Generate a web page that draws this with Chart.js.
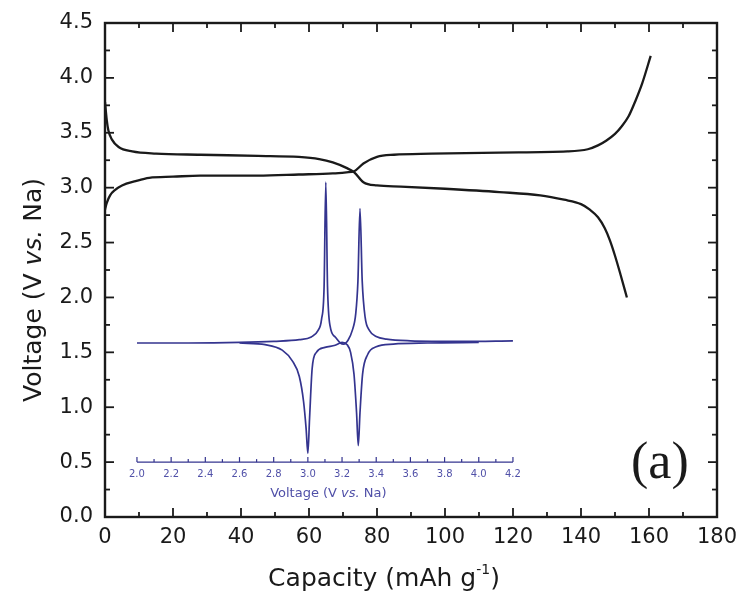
<!DOCTYPE html>
<html><head><meta charset="utf-8">
<script src="https://cdn.jsdelivr.net/npm/chart.js@4.4.1/dist/chart.umd.min.js"></script>
<style>html,body{margin:0;padding:0;background:#fff;}#wrap{width:741px;height:592px;}</style>
</head><body><div id="wrap"><canvas id="c" width="741" height="592"></canvas></div>
<script>
// ---- data ----
const dischargeCapacity = [0, 0.5, 1, 2, 4, 8, 15, 28, 45, 57, 63, 67, 71, 73.3, 76, 80, 87, 100, 116, 128, 135, 140, 142.6, 145, 147, 148.5, 150, 151.7, 153.5];
const dischargeVoltage  = [3.78, 3.62, 3.52, 3.44, 3.37, 3.33, 3.31, 3.30, 3.29, 3.28, 3.26, 3.23, 3.18, 3.14, 3.05, 3.02, 3.01, 2.99, 2.96, 2.93, 2.89, 2.85, 2.80, 2.73, 2.63, 2.52, 2.38, 2.20, 2.00];
const chargeCapacity = [0, 0.5, 1.5, 3, 5, 9, 13, 20, 28, 45, 57, 67, 71, 73.3, 76, 80, 85, 96, 116, 136, 142, 145, 147.5, 150, 152, 154, 156, 158, 160.5];
const chargeVoltage  = [2.80, 2.86, 2.93, 2.98, 3.02, 3.06, 3.09, 3.10, 3.11, 3.11, 3.12, 3.13, 3.14, 3.15, 3.22, 3.28, 3.30, 3.31, 3.32, 3.33, 3.35, 3.385, 3.43, 3.49, 3.56, 3.65, 3.79, 3.95, 4.20];
// inset CV (signal expressed on the main vertical scale)
const cvOxVoltage = [2.00, 2.30, 2.60, 2.80, 2.95, 3.02, 3.06, 3.08, 3.095, 3.105, 3.115, 3.13, 3.16, 3.19, 3.21, 3.235, 3.26, 3.28, 3.293, 3.305, 3.318, 3.335, 3.36, 3.40, 3.46, 3.60, 3.90, 4.20];
const cvOxSignal  = [1.585, 1.585, 1.59, 1.60, 1.615, 1.64, 1.70, 1.80, 2.10, 3.05, 2.10, 1.74, 1.64, 1.585, 1.575, 1.61, 1.70, 1.85, 2.15, 2.81, 2.15, 1.82, 1.70, 1.645, 1.62, 1.605, 1.60, 1.605];
const cvRedVoltage = [2.60, 2.75, 2.85, 2.91, 2.95, 2.975, 2.99, 3.00, 3.01, 3.025, 3.05, 3.10, 3.16, 3.20, 3.23, 3.25, 3.27, 3.285, 3.295, 3.305, 3.32, 3.35, 3.40, 3.50, 3.70, 4.00];
const cvRedSignal  = [1.585, 1.57, 1.52, 1.42, 1.28, 1.05, 0.80, 0.58, 0.90, 1.35, 1.50, 1.545, 1.565, 1.59, 1.57, 1.50, 1.30, 0.95, 0.65, 0.95, 1.30, 1.48, 1.55, 1.575, 1.585, 1.59];
// ticks
const xTickValues = [0, 20, 40, 60, 80, 100, 120, 140, 160, 180];
const xMinorValues = [10, 30, 50, 70, 90, 110, 130, 150, 170];
const yTickValues = [0, 0.5, 1, 1.5, 2, 2.5, 3, 3.5, 4, 4.5];
const yMinorValues = [0.25, 0.75, 1.25, 1.75, 2.25, 2.75, 3.25, 3.75, 4.25];
const insetTickValues = [2.0, 2.2, 2.4, 2.6, 2.8, 3.0, 3.2, 3.4, 3.6, 3.8, 4.0, 4.2];
const insetMinorValues = [2.1, 2.3, 2.5, 2.7, 2.9, 3.1, 3.3, 3.5, 3.7, 3.9, 4.1];
const insetAxisLevel = 0.5;

const pts = (xs, ys) => xs.map((v, i) => ({x: v, y: ys[i]}));
const INK = '#1a1a1a', BLUE = '#34348f', BLUE_TXT = '#5050a8';
const FONT = 'DejaVu Sans';
Chart.defaults.font.family = FONT;

function rich(ctx, parts, cx, cy, rot) {
  ctx.save();
  ctx.translate(cx, cy);
  if (rot) ctx.rotate(-Math.PI / 2);
  let total = 0;
  parts.forEach(p => { ctx.font = p.font; p.w = ctx.measureText(p.t).width; total += p.w; });
  let xx = -total / 2;
  ctx.textBaseline = 'alphabetic'; ctx.textAlign = 'left';
  parts.forEach(p => { ctx.font = p.font; ctx.fillText(p.t, xx, p.dy || 0); xx += p.w; });
  ctx.restore();
}

const decor = {
  id: 'decor',
  afterDatasetsDraw(chart) {
    const {ctx, chartArea: a, scales} = chart;
    const x = scales.x, y = scales.y, x2 = scales.x2;
    const seg = (x0, y0, x1, y1) => { ctx.beginPath(); ctx.moveTo(x0, y0); ctx.lineTo(x1, y1); ctx.stroke(); };
    ctx.save();
    ctx.strokeStyle = INK; ctx.lineWidth = 1.8;
    xTickValues.concat(xMinorValues).forEach(v => {
      const px = x.getPixelForValue(v), L = xTickValues.includes(v) ? 9 : 5;
      seg(px, a.bottom, px, a.bottom - L); seg(px, a.top, px, a.top + L);
    });
    yTickValues.concat(yMinorValues).forEach(v => {
      const py = y.getPixelForValue(v), L = yTickValues.includes(v) ? 9 : 5;
      seg(a.left, py, a.left + L, py); seg(a.right, py, a.right - L, py);
    });
    ctx.lineWidth = 2.4;
    ctx.strokeRect(a.left, a.top, a.right - a.left, a.bottom - a.top);

    // inset axis
    const iy = y.getPixelForValue(insetAxisLevel);
    ctx.strokeStyle = BLUE; ctx.lineWidth = 1.2;
    seg(x2.getPixelForValue(insetTickValues[0]), iy, x2.getPixelForValue(insetTickValues[insetTickValues.length - 1]), iy);
    insetTickValues.concat(insetMinorValues).forEach(v => {
      const px = x2.getPixelForValue(v), L = insetTickValues.includes(v) ? 5 : 3;
      seg(px, iy, px, iy - L);
    });
    ctx.fillStyle = BLUE_TXT; ctx.font = '10px ' + FONT; ctx.textAlign = 'center'; ctx.textBaseline = 'middle';
    insetTickValues.forEach(v => ctx.fillText(v.toFixed(1), x2.getPixelForValue(v), iy + 12));
    rich(ctx, [
      {t: 'Voltage (V ', font: '13px ' + FONT},
      {t: 'vs.', font: 'italic 13px ' + FONT},
      {t: ' Na)', font: '13px ' + FONT}
    ], x2.getPixelForValue(3.12), iy + 35, false);

    // axis titles
    ctx.fillStyle = INK;
    rich(ctx, [
      {t: 'Voltage (V ', font: '25px ' + FONT},
      {t: 'vs.', font: 'italic 25px ' + FONT},
      {t: ' Na)', font: '25px ' + FONT}
    ], 41, 290, true);
    rich(ctx, [
      {t: 'Capacity (mAh g', font: '25px ' + FONT},
      {t: '-1', font: '14px ' + FONT, dy: -12},
      {t: ')', font: '25px ' + FONT}
    ], 384, 586, false);
    // panel label
    ctx.font = '52px "Liberation Serif"'; ctx.textAlign = 'left'; ctx.textBaseline = 'alphabetic';
    ctx.fillText('(a)', 631, 478);
    ctx.restore();
  }
};

new Chart(document.getElementById('c'), {
  type: 'line',
  data: {
    datasets: [
      {label: 'discharge', data: pts(dischargeCapacity, dischargeVoltage), borderColor: INK, borderWidth: 2.3, pointRadius: 0, cubicInterpolationMode: 'monotone', xAxisID: 'x', yAxisID: 'y'},
      {label: 'charge', data: pts(chargeCapacity, chargeVoltage), borderColor: INK, borderWidth: 2.3, pointRadius: 0, cubicInterpolationMode: 'monotone', xAxisID: 'x', yAxisID: 'y'},
      {label: 'CV oxidation', data: pts(cvOxVoltage, cvOxSignal), borderColor: BLUE, borderWidth: 1.7, pointRadius: 0, cubicInterpolationMode: 'monotone', xAxisID: 'x2', yAxisID: 'y'},
      {label: 'CV reduction', data: pts(cvRedVoltage, cvRedSignal), borderColor: BLUE, borderWidth: 1.7, pointRadius: 0, cubicInterpolationMode: 'monotone', xAxisID: 'x2', yAxisID: 'y'}
    ]
  },
  options: {
    responsive: false, animation: false, devicePixelRatio: 1,
    layout: {padding: {left: 0, right: 24, top: 23, bottom: 0}},
    plugins: {legend: {display: false}, tooltip: {enabled: false}},
    scales: {
      x: {
        type: 'linear', position: 'bottom', min: 0, max: 180,
        afterBuildTicks: s => { s.ticks = xTickValues.map(v => ({value: v})); },
        ticks: {color: INK, font: {size: 21}, padding: 8, maxRotation: 0, autoSkip: false, callback: v => String(v)},
        grid: {display: false, drawTicks: false}, border: {display: false},
        afterFit: s => { s.height = 75; s.paddingLeft = 0; s.paddingRight = 0; }
      },
      y: {
        type: 'linear', position: 'left', min: 0, max: 4.5,
        afterBuildTicks: s => { s.ticks = yTickValues.map(v => ({value: v})); },
        ticks: {color: INK, font: {size: 21}, padding: 12, callback: v => Number(v).toFixed(1)},
        grid: {display: false, drawTicks: false}, border: {display: false},
        afterFit: s => { s.width = 105; s.paddingTop = 0; s.paddingBottom = 0; }
      },
      x2: {
        type: 'linear', axis: 'x', position: {y: insetAxisLevel}, min: 1.813, max: 5.394,
        display: false
      }
    }
  },
  plugins: [decor]
});
</script></body></html>
